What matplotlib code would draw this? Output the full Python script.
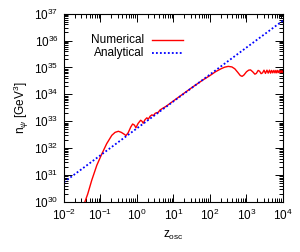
import matplotlib
matplotlib.use("Agg")
import matplotlib.pyplot as plt
import numpy as np

plt.rcParams['font.family'] = ['Liberation Sans', 'DejaVu Sans']
plt.rcParams['mathtext.fontset'] = 'custom'
plt.rcParams['mathtext.rm'] = 'Liberation Sans'
plt.rcParams['mathtext.it'] = 'Liberation Sans:italic'

# numerical solution as (log10 z, log10 n)
num_logz = [-1.47, -1.35, -1.24, -1.10, -0.97, -0.83, -0.69, -0.60, -0.51, -0.43,
            -0.36, -0.30, -0.24, -0.17, -0.12, -0.07, -0.03, 0.03, 0.10, 0.14,
            0.17, 0.22, 0.27, 0.31, 0.36, 0.41, 0.45, 0.50, 0.54, 0.58,
            0.63, 0.70, 0.80, 1.00, 1.50, 1.80, 2.00, 2.15, 2.30, 2.40,
            2.50, 2.60, 2.68, 2.76, 2.83, 2.88, 2.93, 3.00, 3.06, 3.11,
            3.17, 3.23, 3.27, 3.32, 3.36, 3.40, 3.44, 3.48, 3.52, 3.56,
            3.595, 3.63, 3.66, 3.69, 3.72, 3.75, 3.78, 3.805, 3.83, 3.855,
            3.88, 3.905, 3.93, 3.95, 3.975, 4.00]
num_logn = [29.85, 30.30, 30.81, 31.37, 31.77, 32.17, 32.48, 32.59, 32.63, 32.59,
            32.53, 32.47, 32.58, 32.79, 32.90, 32.86, 32.76, 32.92, 33.04, 33.00,
            32.93, 33.06, 33.13, 33.08, 33.19, 33.24, 33.21, 33.30, 33.32, 33.33,
            33.42, 33.48, 33.56, 33.76, 34.25, 34.53, 34.70, 34.84, 34.95, 35.01,
            35.04, 35.02, 34.95, 34.82, 34.70, 34.67, 34.72, 34.84, 34.90, 34.91,
            34.84, 34.75, 34.78, 34.89, 34.86, 34.77, 34.80, 34.90, 34.78, 34.90,
            34.79, 34.90, 34.79, 34.89, 34.80, 34.89, 34.80, 34.89, 34.80, 34.89,
            34.81, 34.88, 34.81, 34.88, 34.81, 34.87]

# analytical solution
ana_z = [1e-2, 1e4]
ana_n = [5.5e30, 5.5e36]

num_z = 10 ** np.array(num_logz)
num_n = 10 ** np.array(num_logn)

fig = plt.figure(figsize=(3.0, 2.52), dpi=100)
ax = fig.add_axes([0.2133, 0.198, 0.73, 0.748])

ax.plot(num_z, num_n, color='#ff0000', lw=1.0)
ax.plot(ana_z, ana_n, color='#0000ff', lw=1.3, linestyle=(0, (1, 1.2)))

ax.set_xscale('log')
ax.set_yscale('log')
ax.set_xlim(1e-2, 1e4)
ax.set_ylim(1e30, 1e37)
ax.set_xticks([1e-2, 1e-1, 1e0, 1e1, 1e2, 1e3, 1e4])
ax.set_yticks([10.0 ** k for k in range(30, 38)])
ax.tick_params(which='both', direction='in', top=True, right=True, labelsize=8.5, width=0.7)
ax.tick_params(which='major', length=5.8, pad=4)
ax.tick_params(which='minor', length=3.2)
ax.xaxis.set_minor_locator(matplotlib.ticker.LogLocator(base=10, subs=np.arange(2, 10), numticks=20))
ax.yaxis.set_minor_locator(matplotlib.ticker.LogLocator(base=10, subs=np.arange(2, 10), numticks=20))
for s in ax.spines.values():
    s.set_linewidth(0.8)

ax.set_xlabel(r'z$_{\rm osc}$', fontsize=8.5, labelpad=4)
ax.set_ylabel(r'n$_\psi$ [GeV$^3$]', fontsize=8.5, labelpad=2)

# gnuplot-style key
ax.text(0.365, 0.859, 'Numerical', transform=ax.transAxes, ha='right', va='center', fontsize=8.5)
ax.text(0.365, 0.793, 'Analytical', transform=ax.transAxes, ha='right', va='center', fontsize=8.5)
ax.plot([0.402, 0.543], [0.859, 0.859], transform=ax.transAxes, color='#ff0000', lw=1.0)
ax.plot([0.402, 0.543], [0.793, 0.793], transform=ax.transAxes, color='#0000ff', lw=1.3, linestyle=(0, (1, 1.2)))

fig.savefig('out.png', dpi=100)
